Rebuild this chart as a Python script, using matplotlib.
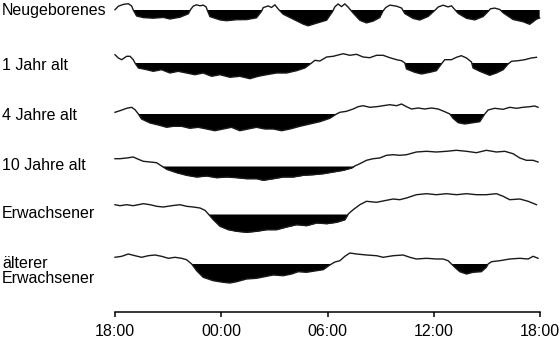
"""Sleep-wake profiles over 24 h for six age groups (black = sleep)."""

import numpy as np
import matplotlib

matplotlib.use("Agg")
import matplotlib.pyplot as plt

plt.rcParams["font.family"] = ["Liberation Sans", "DejaVu Sans"]

# x: hours after 18:00, y: level above the sleep line (px), negative = asleep
NEWBORN = [
    (0.0, 0.3), (0.19, 3.8), (0.47, 5.6), (0.75, 6.3), (0.94, 4.0), (1.03, 0.0),
    (1.22, -6.0), (1.60, -7.6), (2.16, -8.2), (2.73, -7.4), (3.10, -9.0), (3.67, -7.2),
    (4.14, -3.8), (4.27, 0.5), (4.42, 3.9), (4.61, 5.2), (4.80, 4.2), (4.98, 4.9),
    (5.14, 3.2), (5.21, 0.0), (5.36, -6.6), (5.93, -9.9), (6.30, -10.7), (6.87, -9.7),
    (7.43, -9.6), (7.99, -7.8), (8.28, -1.2), (8.37, 2.4), (8.65, 4.1), (8.84, 2.5),
    (9.03, 5.2), (9.22, 0.9), (9.50, -4.2), (10.06, -9.1), (10.63, -14.1), (10.91, -15.8),
    (11.38, -13.2), (11.95, -10.2), (12.28, -1.7), (12.42, 3.3), (12.60, 6.0), (12.79, 3.4),
    (12.98, 6.1), (13.17, 2.8), (13.45, -3.1), (13.83, -10.3), (14.20, -12.9), (14.58, -11.1),
    (14.95, -7.6), (15.14, -0.9), (15.29, 2.5), (15.52, 4.9), (15.90, 3.8), (16.18, 2.0),
    (16.37, -3.6), (16.84, -8.5), (17.21, -10.0), (17.68, -6.5), (18.06, -0.4), (18.25, 3.0),
    (18.53, 4.8), (18.81, 3.1), (19.00, 4.2), (19.13, 1.6), (19.38, -3.4), (19.85, -8.3),
    (20.32, -9.9), (20.79, -6.5), (21.07, -1.5), (21.20, 1.2), (21.44, 1.9), (21.73, 0.5),
    (21.92, -2.8), (22.48, -9.5), (23.04, -11.7), (23.42, -14.3), (23.80, -9.2), (23.98, -8.0),
]
AGE_1 = [
    (0.0, 8.3), (0.19, 5.0), (0.38, 3.3), (0.66, 6.7), (0.85, 6.7), (1.03, 3.3), (1.13, 0.0),
    (1.32, -5.0), (1.79, -6.7), (2.16, -8.3), (2.63, -6.7), (3.10, -10.0), (3.57, -8.3),
    (4.04, -10.0), (4.51, -11.7), (4.98, -10.0), (5.46, -13.3), (5.93, -11.7), (6.49, -14.3),
    (7.05, -13.3), (7.62, -15.7), (8.09, -13.3), (8.56, -11.7), (9.12, -10.0), (9.69, -10.0),
    (10.25, -7.7), (10.72, -5.0), (11.10, 0.0), (11.29, 2.7), (11.57, 2.0), (11.95, 6.0),
    (12.32, 6.7), (12.89, 9.3), (13.26, 7.7), (13.64, 8.7), (14.01, 6.0), (14.39, 5.3),
    (14.77, 7.7), (15.14, 7.7), (15.52, 5.3), (15.90, 3.3), (16.18, 2.3), (16.37, 0.0),
    (16.46, -6.0), (16.93, -9.3), (17.31, -11.0), (17.78, -9.3), (18.15, -7.7), (18.43, -1.0),
    (18.62, 3.3), (19.00, 3.3), (19.28, 5.7), (19.56, 7.3), (19.85, 5.0), (20.13, 1.0),
    (20.22, -5.0), (20.60, -8.3), (21.16, -12.3), (21.54, -10.0), (21.92, -6.7), (22.20, -1.0),
    (22.39, 1.7), (22.76, 2.3), (23.14, 3.3), (23.51, 5.0), (23.80, 5.7),
]
AGE_4 = [
    (0.0, 1.7), (0.28, 3.3), (0.66, 5.7), (0.94, 6.7), (1.13, 4.3), (1.32, 0.0),
    (1.50, -5.0), (1.98, -9.0), (2.45, -11.0), (2.92, -13.3), (3.29, -12.3), (3.76, -12.3),
    (4.23, -14.3), (4.70, -13.3), (5.17, -15.0), (5.64, -16.7), (6.11, -15.0), (6.58, -13.3),
    (7.05, -16.7), (7.52, -15.0), (7.99, -13.3), (8.47, -15.0), (8.94, -15.0), (9.41, -16.7),
    (9.88, -15.0), (10.44, -12.3), (11.00, -10.0), (11.57, -7.7), (12.13, -4.3), (12.51, 0.0),
    (12.70, 1.7), (13.07, 2.7), (13.45, 5.0), (13.73, 7.3), (14.01, 8.3), (14.39, 6.7),
    (14.77, 7.3), (15.14, 8.3), (15.52, 9.3), (15.90, 8.3), (16.18, 10.0), (16.46, 7.3),
    (16.74, 5.0), (17.12, 6.0), (17.49, 5.0), (17.87, 6.0), (18.25, 5.0), (18.62, 2.3),
    (18.91, 0.0), (19.09, -4.3), (19.38, -8.7), (19.75, -10.0), (20.22, -8.7), (20.60, -7.7),
    (20.88, 0.0), (21.07, 4.0), (21.44, 5.7), (21.92, 4.7), (22.29, 6.7), (22.67, 5.7),
    (23.04, 6.7), (23.42, 7.3), (23.70, 8.0), (23.89, 6.7),
]
AGE_10 = [
    (0.0, 7.3), (0.28, 7.3), (0.66, 8.0), (1.03, 9.0), (1.32, 6.7), (1.60, 4.7),
    (1.98, 4.0), (2.35, 3.3), (2.63, 0.0), (2.92, -3.3), (3.48, -6.7), (4.04, -9.3),
    (4.61, -11.0), (5.17, -10.0), (5.74, -11.7), (6.30, -11.0), (6.87, -11.7), (7.43, -12.7),
    (7.99, -12.7), (8.37, -14.3), (8.94, -12.7), (9.50, -11.0), (10.06, -11.0), (10.63, -9.3),
    (11.19, -8.7), (11.76, -7.7), (12.32, -6.0), (12.89, -4.3), (13.36, -2.0), (13.54, 0.0),
    (13.83, 2.3), (14.20, 5.7), (14.58, 7.3), (14.95, 8.0), (15.33, 10.7), (15.71, 11.3),
    (16.08, 10.7), (16.46, 11.3), (17.02, 14.0), (17.59, 14.7), (18.15, 14.0), (18.72, 14.7),
    (19.28, 15.7), (19.85, 14.7), (20.41, 13.3), (20.97, 15.7), (21.54, 14.0), (22.01, 14.7),
    (22.48, 12.3), (22.86, 8.0), (23.23, 5.7), (23.61, 5.7), (23.89, 4.0),
]
ADULT = [
    (0.0, 9.3), (0.28, 8.3), (0.66, 9.3), (1.03, 8.3), (1.60, 10.3), (1.98, 9.3),
    (2.35, 7.7), (2.73, 7.0), (3.20, 8.3), (3.67, 9.3), (4.04, 7.7), (4.42, 7.0),
    (4.80, 6.0), (5.08, 3.7), (5.27, 0.0), (5.55, -5.7), (5.93, -12.3), (6.40, -15.7),
    (6.87, -17.3), (7.43, -18.3), (7.99, -17.3), (8.56, -15.7), (9.12, -15.7), (9.69, -13.0),
    (10.25, -10.7), (10.82, -11.7), (11.38, -9.0), (11.95, -9.7), (12.51, -8.3), (12.98, -5.7),
    (13.17, 0.0), (13.45, 4.3), (13.83, 9.3), (14.20, 12.7), (14.77, 11.7), (15.33, 13.7),
    (15.71, 15.0), (16.08, 14.3), (16.46, 16.0), (17.02, 19.3), (17.59, 20.3), (18.15, 19.3),
    (18.72, 20.3), (19.28, 19.3), (19.85, 20.3), (20.41, 19.3), (20.97, 19.3), (21.54, 20.3),
    (21.92, 17.7), (22.29, 14.3), (22.86, 15.0), (23.33, 12.7), (23.80, 9.3),
]
SENIOR = [
    (0.0, 6.7), (0.38, 7.7), (0.75, 10.0), (1.13, 8.3), (1.50, 6.7), (1.88, 8.3),
    (2.26, 9.0), (2.63, 7.7), (3.01, 5.7), (3.39, 6.7), (3.76, 5.7), (4.04, 4.3),
    (4.33, 0.0), (4.61, -6.7), (4.98, -13.3), (5.55, -16.7), (6.11, -18.3), (6.49, -19.0),
    (6.87, -17.7), (7.43, -15.0), (7.99, -14.3), (8.56, -12.3), (8.94, -11.0), (9.50, -11.7),
    (9.97, -10.0), (10.35, -7.7), (10.82, -8.3), (11.38, -6.7), (11.76, -5.7), (12.13, -1.0),
    (12.42, 2.0), (12.70, 3.3), (12.98, 7.7), (13.26, 11.0), (13.64, 10.0), (14.20, 9.0),
    (14.77, 8.3), (15.14, 6.7), (15.71, 8.3), (16.27, 9.0), (16.65, 6.7), (17.02, 5.0),
    (17.59, 5.7), (18.15, 5.0), (18.53, 5.0), (18.81, 3.3), (19.00, 0.0), (19.19, -3.3),
    (19.47, -7.7), (19.85, -10.0), (20.22, -8.3), (20.69, -7.7), (20.97, -3.3), (21.07, 0.0),
    (21.26, 2.3), (21.73, 3.3), (22.29, 5.0), (22.86, 5.7), (23.33, 5.0), (23.61, 7.7),
    (23.89, 5.7),
]

SERIES = [NEWBORN, AGE_1, AGE_4, AGE_10, ADULT, SENIOR]
ROW_LABELS = ["Neugeborenes", "1 Jahr alt", "4 Jahre alt", "10 Jahre alt",
              "Erwachsener", "älterer\nErwachsener"]
TICK_HOURS = [0, 6, 12, 18, 24]
TICK_LABELS = ["18:00", "00:00", "06:00", "12:00", "18:00"]

# layout, in pixels of the 560x339 figure
W, H = 560, 339
AXIS_Y = 312
ROW_BASE = [10, 63, 114, 166, 214, 264]
LABEL_Y = [11, 65, 115, 165, 214, 271]

fig = plt.figure(figsize=(W / 100, H / 100), dpi=100)
ax = fig.add_axes([115 / W, (H - AXIS_Y) / H, 425 / W, AXIS_Y / H])
ax.set_xlim(0, 24)
ax.set_ylim(AXIS_Y, 0)

for pts, base in zip(SERIES, ROW_BASE):
    t, v = np.array(pts).T
    y = base - v
    ax.fill_between(t, base, y, where=v < 0, interpolate=True,
                    color="black", linewidth=0, clip_on=False)
    ax.plot(t, y, color="#1a1a1a", linewidth=1.0, clip_on=False)

for label, y in zip(ROW_LABELS, LABEL_Y):
    fig.text(2 / W, 1 - y / H, label, fontsize=11.5, va="center", ha="left",
             linespacing=1.0)

for side in ("top", "right", "left"):
    ax.spines[side].set_visible(False)
ax.spines["bottom"].set_linewidth(1.1)
ax.set_yticks([])
ax.set_xticks(TICK_HOURS, TICK_LABELS, fontsize=11.5)
ax.tick_params(axis="x", direction="out", length=3.5, width=1.1, pad=5)

fig.savefig("out.png", dpi=100)
